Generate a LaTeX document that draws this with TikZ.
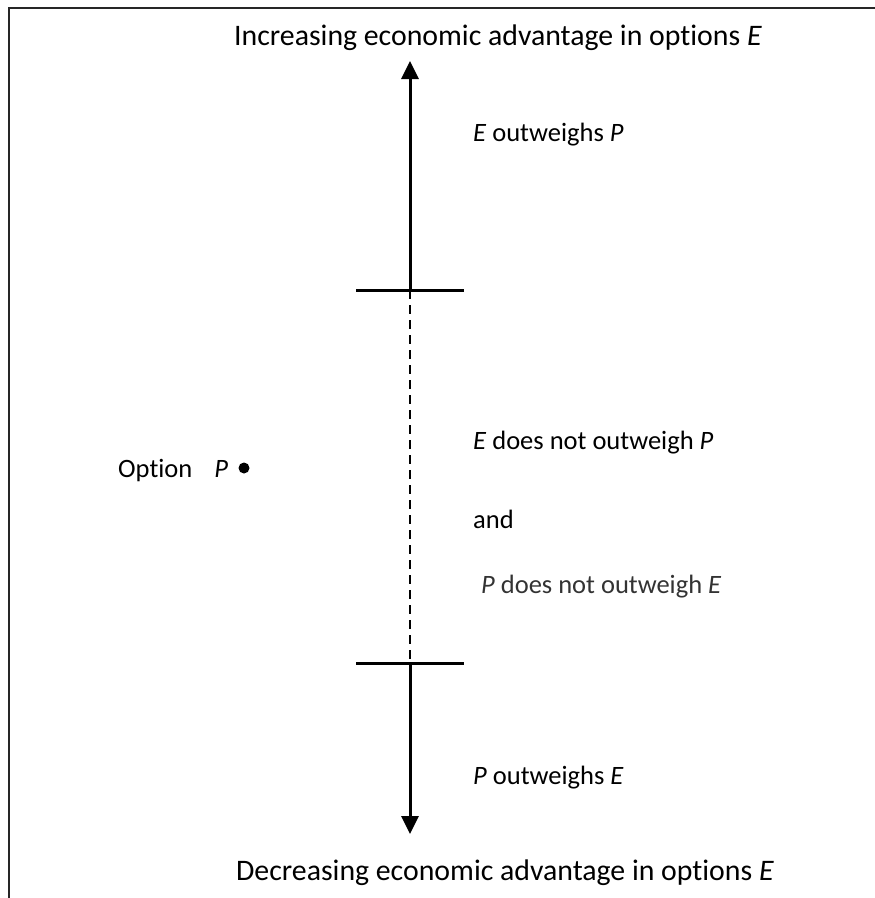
\documentclass[tikz,border=0pt]{standalone}
\usepackage{fontspec}
\setmainfont{Carlito}[Ligatures=NoCommon]
\usetikzlibrary{positioning, arrows.meta}

\begin{document}
\begin{tikzpicture}[
    x=1pt, y=-1pt,
    >={Triangle[width=17pt, length=18pt]},
    axis/.style={line width=3pt},
    tick/.style={line width=3pt},
    gap/.style={line width=2pt, dash pattern=on 9pt off 6pt},
    label/.style={font=\fontsize{26.5}{30}\selectfont, inner sep=0pt, anchor=base west},
    title/.style={font=\fontsize{29.8}{33}\selectfont, inner sep=0pt, anchor=base}
]
\useasboundingbox (0,0) rectangle (875,898);

% Rahmen
\draw[line width=2.6pt, draw=black!85] (9,898) -- (9,8) -- (875,8);

% Achsenpunkte
\coordinate (top) at (410,61);
\coordinate (up) at (410,290);
\coordinate (low) at (410,663);
\coordinate (bottom) at (410,834);

% Querstriche
\coordinate (upL) at (356,290);
\coordinate (upR) at (464,290);
\coordinate (lowL) at (356,663);
\coordinate (lowR) at (464,663);
\draw[tick] (upL) -- (upR);
\draw[tick] (lowL) -- (lowR);

% Pfeile
\draw[axis, ->] (up) -- (top);
\draw[axis, ->] (low) -- (bottom);
\draw[gap] (up) -- (low);

% Beschriftungen
\node[title] (inc) at (498,45) {Increasing economic advantage in options \textit{E}};
\node[title] (dec) at (505,880) {Decreasing economic advantage in options \textit{E}};
\node[label] (eop) at (473,141) {\textit{E} outweighs \textit{P}};
\node[label] (enot) at (473,449) {\textit{E} does not outweigh \textit{P}};
\node[label] (and) at (473,528) {and};
\node[label, text=black!80] (pnot) at (481,593) {\textit{P} does not outweigh \textit{E}};
\node[label] (poe) at (473,784) {\textit{P} outweighs \textit{E}};

% Option P
\node[label] (optp) at (118,477) {Option\hspace{22pt}\textit{P}};
\node[circle, fill, inner sep=0pt, minimum size=11pt] (dot) at (244,468) {};

\end{tikzpicture}
\end{document}
